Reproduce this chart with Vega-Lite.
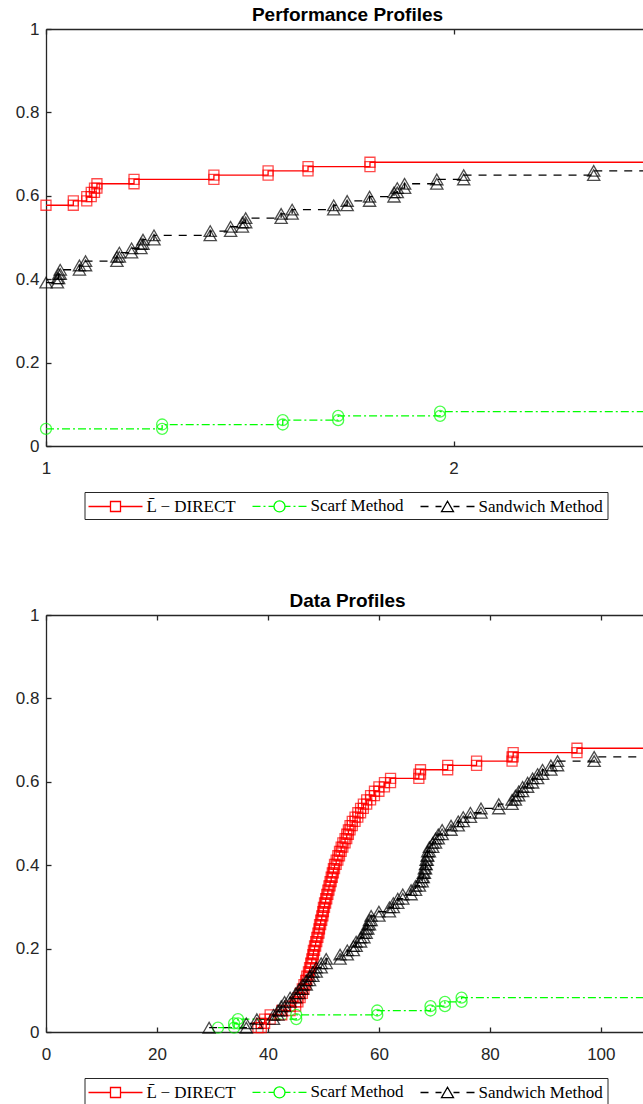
{
  "$schema": "https://vega.github.io/schema/vega-lite/v6.json",
  "padding": {"left": 15, "top": 6, "right": 0, "bottom": 45},
  "spacing": 169,
  "bounds": "flush",
  "resolve": {"scale": {"color": "independent", "shape": "independent"}, "legend": {"color": "independent", "shape": "independent"}},
  "config": {
    "view": {"stroke": null},
    "axis": {"grid": false, "title": null, "domainColor": "#262626", "domainWidth": 1.3, "tickColor": "#262626", "tickWidth": 1.3, "tickSize": -5, "labelColor": "#262626", "labelFont": "Liberation Sans", "labelFontSize": 17, "labelFlush": false, "labelOverlap": false},
    "title": {"font": "Liberation Sans", "fontSize": 19, "fontWeight": "bold", "color": "#000000", "baseline": "alphabetic", "offset": -5, "dx": 3, "frame": "group"}
  },
  "vconcat": [
    {
      "width": 597,
      "height": 417,
      "title": "Performance Profiles",
      "resolve": {"axis": {"x": "independent"}},
      "data": {"values": [
        {"s":"A","x":1,"y":0.5773},
        {"s":"A","x":1.067,"y":0.5773},{"s":"A","x":1.067,"y":0.5876},
        {"s":"A","x":1.1,"y":0.5876},{"s":"A","x":1.1,"y":0.5979},
        {"s":"A","x":1.111,"y":0.5979},{"s":"A","x":1.111,"y":0.6082},
        {"s":"A","x":1.119,"y":0.6082},{"s":"A","x":1.119,"y":0.6186},
        {"s":"A","x":1.125,"y":0.6186},{"s":"A","x":1.125,"y":0.6289},
        {"s":"A","x":1.216,"y":0.6289},{"s":"A","x":1.216,"y":0.6392},
        {"s":"A","x":1.412,"y":0.6392},{"s":"A","x":1.412,"y":0.6495},
        {"s":"A","x":1.545,"y":0.6495},{"s":"A","x":1.545,"y":0.6598},
        {"s":"A","x":1.643,"y":0.6598},{"s":"A","x":1.643,"y":0.6701},
        {"s":"A","x":1.795,"y":0.6701},{"s":"A","x":1.795,"y":0.6804},
        {"s":"A","x":2.6,"y":0.6804},
        {"s":"B","x":1,"y":0.0412},
        {"s":"B","x":1.285,"y":0.0412},{"s":"B","x":1.285,"y":0.0515},
        {"s":"B","x":1.581,"y":0.0515},{"s":"B","x":1.581,"y":0.0619},
        {"s":"B","x":1.717,"y":0.0619},{"s":"B","x":1.717,"y":0.0722},
        {"s":"B","x":1.967,"y":0.0722},{"s":"B","x":1.967,"y":0.0825},
        {"s":"B","x":2.6,"y":0.0825},
        {"s":"C","x":1,"y":0.3918},
        {"s":"C","x":1.028,"y":0.3918},{"s":"C","x":1.028,"y":0.4021},
        {"s":"C","x":1.031,"y":0.4021},{"s":"C","x":1.031,"y":0.4124},
        {"s":"C","x":1.035,"y":0.4124},{"s":"C","x":1.035,"y":0.4227},
        {"s":"C","x":1.082,"y":0.4227},{"s":"C","x":1.082,"y":0.4330},
        {"s":"C","x":1.097,"y":0.4330},{"s":"C","x":1.097,"y":0.4433},
        {"s":"C","x":1.174,"y":0.4433},{"s":"C","x":1.174,"y":0.4536},
        {"s":"C","x":1.180,"y":0.4536},{"s":"C","x":1.180,"y":0.4639},
        {"s":"C","x":1.210,"y":0.4639},{"s":"C","x":1.210,"y":0.4742},
        {"s":"C","x":1.233,"y":0.4742},{"s":"C","x":1.233,"y":0.4845},
        {"s":"C","x":1.238,"y":0.4845},{"s":"C","x":1.238,"y":0.4948},
        {"s":"C","x":1.265,"y":0.4948},{"s":"C","x":1.265,"y":0.5052},
        {"s":"C","x":1.403,"y":0.5052},{"s":"C","x":1.403,"y":0.5155},
        {"s":"C","x":1.453,"y":0.5155},{"s":"C","x":1.453,"y":0.5258},
        {"s":"C","x":1.482,"y":0.5258},{"s":"C","x":1.482,"y":0.5361},
        {"s":"C","x":1.490,"y":0.5361},{"s":"C","x":1.490,"y":0.5464},
        {"s":"C","x":1.577,"y":0.5464},{"s":"C","x":1.577,"y":0.5567},
        {"s":"C","x":1.604,"y":0.5567},{"s":"C","x":1.604,"y":0.5670},
        {"s":"C","x":1.706,"y":0.5670},{"s":"C","x":1.706,"y":0.5773},
        {"s":"C","x":1.739,"y":0.5773},{"s":"C","x":1.739,"y":0.5876},
        {"s":"C","x":1.794,"y":0.5876},{"s":"C","x":1.794,"y":0.5979},
        {"s":"C","x":1.854,"y":0.5979},{"s":"C","x":1.854,"y":0.6082},
        {"s":"C","x":1.862,"y":0.6082},{"s":"C","x":1.862,"y":0.6186},
        {"s":"C","x":1.880,"y":0.6186},{"s":"C","x":1.880,"y":0.6289},
        {"s":"C","x":1.959,"y":0.6289},{"s":"C","x":1.959,"y":0.6392},
        {"s":"C","x":2.025,"y":0.6392},{"s":"C","x":2.025,"y":0.6495},
        {"s":"C","x":2.344,"y":0.6495},{"s":"C","x":2.344,"y":0.6598},
        {"s":"C","x":2.6,"y":0.6598}
      ]},
      "layer": [
        {
          "transform": [{"filter": "datum.s == 'A'"}],
          "mark": {"type": "line", "clip": true, "strokeWidth": 1.3, "color": "#ff0000"},
          "encoding": {
            "x": {"field": "x", "type": "quantitative", "scale": {"domain": [1, 2.465], "nice": false, "zero": false}, "axis": {"orient": "bottom", "values": [1, 2], "format": "d", "labelPadding": 19}},
            "y": {"field": "y", "type": "quantitative", "scale": {"domain": [0, 1], "nice": false}, "axis": {"orient": "left", "values": [0, 0.2, 0.4, 0.6, 0.8, 1], "format": ".1~f", "labelPadding": 12}},
            "order": {"value": null}
          }
        },
        {
          "transform": [{"filter": "datum.s == 'B'"}],
          "mark": {"type": "line", "clip": true, "strokeWidth": 1.3, "color": "#00ff00", "strokeDash": [8, 3, 2, 3]},
          "encoding": {
            "x": {"field": "x", "type": "quantitative", "axis": null},
            "y": {"field": "y", "type": "quantitative"},
            "order": {"value": null}
          }
        },
        {
          "transform": [{"filter": "datum.s == 'C'"}],
          "mark": {"type": "line", "clip": true, "strokeWidth": 1.3, "color": "#000000", "strokeDash": [8, 7]},
          "encoding": {
            "x": {"field": "x", "type": "quantitative", "axis": null},
            "y": {"field": "y", "type": "quantitative"},
            "order": {"value": null}
          }
        },
        {
          "transform": [{"filter": "datum.s == 'A' && datum.x <= 2.465"}],
          "mark": {"type": "point", "shape": "square", "size": 100, "filled": false, "color": "#ff0000", "strokeWidth": 1.3},
          "encoding": {
            "x": {"field": "x", "type": "quantitative", "axis": {"orient": "top", "values": [1, 2], "labels": false}},
            "y": {"field": "y", "type": "quantitative"}
          }
        },
        {
          "transform": [{"filter": "datum.s == 'B' && datum.x <= 2.465"}],
          "mark": {"type": "point", "shape": "circle", "size": 121, "filled": false, "color": "#00ff00", "strokeWidth": 1.3},
          "encoding": {
            "x": {"field": "x", "type": "quantitative", "axis": null},
            "y": {"field": "y", "type": "quantitative"}
          }
        },
        {
          "transform": [{"filter": "datum.s == 'C' && datum.x <= 2.465"}],
          "mark": {"type": "point", "shape": "triangle-up", "size": 150, "filled": false, "color": "#000000", "strokeWidth": 1.3},
          "encoding": {
            "x": {"field": "x", "type": "quantitative", "axis": null},
            "y": {"field": "y", "type": "quantitative"}
          }
        },
        {
          "data": {"values": [{"s": "A"}, {"s": "B"}, {"s": "C"}]},
          "mark": {"type": "point", "opacity": 0, "filled": false, "strokeWidth": 1.3},
          "encoding": {
            "color": {"field": "s", "type": "nominal", "scale": {"domain": ["A", "B", "C"], "range": ["#ff0000", "#00ff00", "#000000"]}},
            "shape": {"field": "s", "type": "nominal",
              "scale": {"domain": ["A", "B", "C"], "range": [
                "M-3,0H-0.556M0.556,0H3M-0.556,-0.556H0.556V0.556H-0.556Z",
                "M-3,0H-2.111M-1.778,0H-1.556M-1.222,0H-0.611M0.611,0H1.222M1.556,0H1.778M2.111,0H3M-0.611,0A0.611,0.611,0,1,1,0.611,0A0.611,0.611,0,1,1,-0.611,0Z",
                "M-3,0H-2.111M-1.333,0H-0.667M0.667,0H1.333M2.111,0H3M0,-0.578L-0.667,0.578L0.667,0.578Z"
              ]},
              "legend": {"orient": "none", "legendX": 38.5, "legendY": 463, "direction": "horizontal", "title": null, "strokeColor": "#262626", "fillColor": "#ffffff", "padding": 4, "labelFont": "Liberation Serif", "labelFontSize": 17, "labelColor": "#000000", "symbolSize": 324, "symbolOffset": 17, "labelOffset": 21, "columnPadding": 13, "symbolStrokeWidth": 1.3,
                "labelExpr": "datum.label == 'A' ? 'L\u0304 \u2212 DIRECT' : datum.label == 'B' ? 'Scarf Method' : 'Sandwich Method'"}
            }
          }
        }
      ]
    },
    {
      "width": 597,
      "height": 417,
      "title": "Data Profiles",
      "resolve": {"axis": {"x": "independent"}},
      "data": {"values": [
        {"s":"A","x":38.2,"y":0.0103},
        {"s":"A","x":38.8,"y":0.0103},{"s":"A","x":38.8,"y":0.0206},
        {"s":"A","x":39.4,"y":0.0206},{"s":"A","x":39.4,"y":0.0309},
        {"s":"A","x":40.4,"y":0.0309},{"s":"A","x":40.4,"y":0.0412},
        {"s":"A","x":42.5,"y":0.0412},{"s":"A","x":42.5,"y":0.0515},
        {"s":"A","x":44.0,"y":0.0515},{"s":"A","x":44.0,"y":0.0619},
        {"s":"A","x":45.0,"y":0.0619},{"s":"A","x":45.0,"y":0.0722},
        {"s":"A","x":45.4,"y":0.0722},{"s":"A","x":45.4,"y":0.0825},
        {"s":"A","x":45.8,"y":0.0825},{"s":"A","x":45.8,"y":0.0928},
        {"s":"A","x":46.2,"y":0.0928},{"s":"A","x":46.2,"y":0.1031},
        {"s":"A","x":46.5,"y":0.1031},{"s":"A","x":46.5,"y":0.1134},
        {"s":"A","x":46.8,"y":0.1134},{"s":"A","x":46.8,"y":0.1237},
        {"s":"A","x":47.0,"y":0.1237},{"s":"A","x":47.0,"y":0.1340},
        {"s":"A","x":47.3,"y":0.1340},{"s":"A","x":47.3,"y":0.1443},
        {"s":"A","x":47.5,"y":0.1443},{"s":"A","x":47.5,"y":0.1546},
        {"s":"A","x":47.7,"y":0.1546},{"s":"A","x":47.7,"y":0.1649},
        {"s":"A","x":47.9,"y":0.1649},{"s":"A","x":47.9,"y":0.1753},
        {"s":"A","x":48.1,"y":0.1753},{"s":"A","x":48.1,"y":0.1856},
        {"s":"A","x":48.2,"y":0.1856},{"s":"A","x":48.2,"y":0.1959},
        {"s":"A","x":48.4,"y":0.1959},{"s":"A","x":48.4,"y":0.2062},
        {"s":"A","x":48.6,"y":0.2062},{"s":"A","x":48.6,"y":0.2165},
        {"s":"A","x":48.8,"y":0.2165},{"s":"A","x":48.8,"y":0.2268},
        {"s":"A","x":49.0,"y":0.2268},{"s":"A","x":49.0,"y":0.2371},
        {"s":"A","x":49.2,"y":0.2371},{"s":"A","x":49.2,"y":0.2474},
        {"s":"A","x":49.3,"y":0.2474},{"s":"A","x":49.3,"y":0.2577},
        {"s":"A","x":49.5,"y":0.2577},{"s":"A","x":49.5,"y":0.2680},
        {"s":"A","x":49.7,"y":0.2680},{"s":"A","x":49.7,"y":0.2784},
        {"s":"A","x":49.9,"y":0.2784},{"s":"A","x":49.9,"y":0.2887},
        {"s":"A","x":50.0,"y":0.2887},{"s":"A","x":50.0,"y":0.2990},
        {"s":"A","x":50.2,"y":0.2990},{"s":"A","x":50.2,"y":0.3093},
        {"s":"A","x":50.4,"y":0.3093},{"s":"A","x":50.4,"y":0.3196},
        {"s":"A","x":50.6,"y":0.3196},{"s":"A","x":50.6,"y":0.3299},
        {"s":"A","x":50.8,"y":0.3299},{"s":"A","x":50.8,"y":0.3402},
        {"s":"A","x":51.0,"y":0.3402},{"s":"A","x":51.0,"y":0.3505},
        {"s":"A","x":51.2,"y":0.3505},{"s":"A","x":51.2,"y":0.3608},
        {"s":"A","x":51.4,"y":0.3608},{"s":"A","x":51.4,"y":0.3711},
        {"s":"A","x":51.6,"y":0.3711},{"s":"A","x":51.6,"y":0.3814},
        {"s":"A","x":51.8,"y":0.3814},{"s":"A","x":51.8,"y":0.3918},
        {"s":"A","x":52.0,"y":0.3918},{"s":"A","x":52.0,"y":0.4021},
        {"s":"A","x":52.3,"y":0.4021},{"s":"A","x":52.3,"y":0.4124},
        {"s":"A","x":52.6,"y":0.4124},{"s":"A","x":52.6,"y":0.4227},
        {"s":"A","x":52.9,"y":0.4227},{"s":"A","x":52.9,"y":0.4330},
        {"s":"A","x":53.2,"y":0.4330},{"s":"A","x":53.2,"y":0.4433},
        {"s":"A","x":53.5,"y":0.4433},{"s":"A","x":53.5,"y":0.4536},
        {"s":"A","x":53.9,"y":0.4536},{"s":"A","x":53.9,"y":0.4639},
        {"s":"A","x":54.2,"y":0.4639},{"s":"A","x":54.2,"y":0.4742},
        {"s":"A","x":54.5,"y":0.4742},{"s":"A","x":54.5,"y":0.4845},
        {"s":"A","x":54.8,"y":0.4845},{"s":"A","x":54.8,"y":0.4948},
        {"s":"A","x":55.2,"y":0.4948},{"s":"A","x":55.2,"y":0.5052},
        {"s":"A","x":55.7,"y":0.5052},{"s":"A","x":55.7,"y":0.5155},
        {"s":"A","x":56.2,"y":0.5155},{"s":"A","x":56.2,"y":0.5258},
        {"s":"A","x":56.7,"y":0.5258},{"s":"A","x":56.7,"y":0.5361},
        {"s":"A","x":57.2,"y":0.5361},{"s":"A","x":57.2,"y":0.5464},
        {"s":"A","x":57.8,"y":0.5464},{"s":"A","x":57.8,"y":0.5567},
        {"s":"A","x":58.5,"y":0.5567},{"s":"A","x":58.5,"y":0.5670},
        {"s":"A","x":59.2,"y":0.5670},{"s":"A","x":59.2,"y":0.5773},
        {"s":"A","x":60.0,"y":0.5773},{"s":"A","x":60.0,"y":0.5876},
        {"s":"A","x":61.0,"y":0.5876},{"s":"A","x":61.0,"y":0.5979},
        {"s":"A","x":62.1,"y":0.5979},{"s":"A","x":62.1,"y":0.6082},
        {"s":"A","x":67.2,"y":0.6082},{"s":"A","x":67.2,"y":0.6186},
        {"s":"A","x":67.5,"y":0.6186},{"s":"A","x":67.5,"y":0.6289},
        {"s":"A","x":72.4,"y":0.6289},{"s":"A","x":72.4,"y":0.6392},
        {"s":"A","x":77.6,"y":0.6392},{"s":"A","x":77.6,"y":0.6495},
        {"s":"A","x":84.0,"y":0.6495},{"s":"A","x":84.0,"y":0.6598},
        {"s":"A","x":84.2,"y":0.6598},{"s":"A","x":84.2,"y":0.6701},
        {"s":"A","x":95.7,"y":0.6701},{"s":"A","x":95.7,"y":0.6804},
        {"s":"A","x":115,"y":0.6804},
        {"s":"B","x":31.0,"y":0.0103},
        {"s":"B","x":33.9,"y":0.0103},{"s":"B","x":33.9,"y":0.0206},
        {"s":"B","x":34.6,"y":0.0206},{"s":"B","x":34.6,"y":0.0309},
        {"s":"B","x":45.1,"y":0.0309},{"s":"B","x":45.1,"y":0.0412},
        {"s":"B","x":59.7,"y":0.0412},{"s":"B","x":59.7,"y":0.0515},
        {"s":"B","x":69.3,"y":0.0515},{"s":"B","x":69.3,"y":0.0619},
        {"s":"B","x":71.9,"y":0.0619},{"s":"B","x":71.9,"y":0.0722},
        {"s":"B","x":74.9,"y":0.0722},{"s":"B","x":74.9,"y":0.0825},
        {"s":"B","x":115,"y":0.0825},
        {"s":"C","x":29.4,"y":0.0103},
        {"s":"C","x":36.1,"y":0.0103},{"s":"C","x":36.1,"y":0.0206},
        {"s":"C","x":38.0,"y":0.0206},{"s":"C","x":38.0,"y":0.0309},
        {"s":"C","x":41.0,"y":0.0309},{"s":"C","x":41.0,"y":0.0412},
        {"s":"C","x":41.8,"y":0.0412},{"s":"C","x":41.8,"y":0.0515},
        {"s":"C","x":42.4,"y":0.0515},{"s":"C","x":42.4,"y":0.0619},
        {"s":"C","x":43.0,"y":0.0619},{"s":"C","x":43.0,"y":0.0722},
        {"s":"C","x":44.0,"y":0.0722},{"s":"C","x":44.0,"y":0.0825},
        {"s":"C","x":45.0,"y":0.0825},{"s":"C","x":45.0,"y":0.0928},
        {"s":"C","x":45.6,"y":0.0928},{"s":"C","x":45.6,"y":0.1031},
        {"s":"C","x":46.2,"y":0.1031},{"s":"C","x":46.2,"y":0.1134},
        {"s":"C","x":46.9,"y":0.1134},{"s":"C","x":46.9,"y":0.1237},
        {"s":"C","x":47.5,"y":0.1237},{"s":"C","x":47.5,"y":0.1340},
        {"s":"C","x":48.1,"y":0.1340},{"s":"C","x":48.1,"y":0.1443},
        {"s":"C","x":48.7,"y":0.1443},{"s":"C","x":48.7,"y":0.1546},
        {"s":"C","x":49.6,"y":0.1546},{"s":"C","x":49.6,"y":0.1649},
        {"s":"C","x":50.5,"y":0.1649},{"s":"C","x":50.5,"y":0.1753},
        {"s":"C","x":53.0,"y":0.1753},{"s":"C","x":53.0,"y":0.1856},
        {"s":"C","x":54.3,"y":0.1856},{"s":"C","x":54.3,"y":0.1959},
        {"s":"C","x":55.4,"y":0.1959},{"s":"C","x":55.4,"y":0.2062},
        {"s":"C","x":55.9,"y":0.2062},{"s":"C","x":55.9,"y":0.2165},
        {"s":"C","x":56.7,"y":0.2165},{"s":"C","x":56.7,"y":0.2268},
        {"s":"C","x":57.3,"y":0.2268},{"s":"C","x":57.3,"y":0.2371},
        {"s":"C","x":57.7,"y":0.2371},{"s":"C","x":57.7,"y":0.2474},
        {"s":"C","x":58.0,"y":0.2474},{"s":"C","x":58.0,"y":0.2577},
        {"s":"C","x":58.3,"y":0.2577},{"s":"C","x":58.3,"y":0.2680},
        {"s":"C","x":58.6,"y":0.2680},{"s":"C","x":58.6,"y":0.2784},
        {"s":"C","x":60.0,"y":0.2784},{"s":"C","x":60.0,"y":0.2887},
        {"s":"C","x":61.9,"y":0.2887},{"s":"C","x":61.9,"y":0.2990},
        {"s":"C","x":62.6,"y":0.2990},{"s":"C","x":62.6,"y":0.3093},
        {"s":"C","x":63.4,"y":0.3093},{"s":"C","x":63.4,"y":0.3196},
        {"s":"C","x":64.3,"y":0.3196},{"s":"C","x":64.3,"y":0.3299},
        {"s":"C","x":65.8,"y":0.3299},{"s":"C","x":65.8,"y":0.3402},
        {"s":"C","x":66.6,"y":0.3402},{"s":"C","x":66.6,"y":0.3505},
        {"s":"C","x":67.3,"y":0.3505},{"s":"C","x":67.3,"y":0.3608},
        {"s":"C","x":67.8,"y":0.3608},{"s":"C","x":67.8,"y":0.3711},
        {"s":"C","x":68.0,"y":0.3711},{"s":"C","x":68.0,"y":0.3814},
        {"s":"C","x":68.2,"y":0.3814},{"s":"C","x":68.2,"y":0.3918},
        {"s":"C","x":68.4,"y":0.3918},{"s":"C","x":68.4,"y":0.4021},
        {"s":"C","x":68.5,"y":0.4021},{"s":"C","x":68.5,"y":0.4124},
        {"s":"C","x":68.7,"y":0.4124},{"s":"C","x":68.7,"y":0.4227},
        {"s":"C","x":68.8,"y":0.4227},{"s":"C","x":68.8,"y":0.4330},
        {"s":"C","x":69.1,"y":0.4330},{"s":"C","x":69.1,"y":0.4433},
        {"s":"C","x":69.7,"y":0.4433},{"s":"C","x":69.7,"y":0.4536},
        {"s":"C","x":70.2,"y":0.4536},{"s":"C","x":70.2,"y":0.4639},
        {"s":"C","x":70.7,"y":0.4639},{"s":"C","x":70.7,"y":0.4742},
        {"s":"C","x":71.4,"y":0.4742},{"s":"C","x":71.4,"y":0.4845},
        {"s":"C","x":73.0,"y":0.4845},{"s":"C","x":73.0,"y":0.4948},
        {"s":"C","x":74.3,"y":0.4948},{"s":"C","x":74.3,"y":0.5052},
        {"s":"C","x":75.2,"y":0.5052},{"s":"C","x":75.2,"y":0.5155},
        {"s":"C","x":76.5,"y":0.5155},{"s":"C","x":76.5,"y":0.5258},
        {"s":"C","x":78.4,"y":0.5258},{"s":"C","x":78.4,"y":0.5361},
        {"s":"C","x":81.6,"y":0.5361},{"s":"C","x":81.6,"y":0.5464},
        {"s":"C","x":84.0,"y":0.5464},{"s":"C","x":84.0,"y":0.5567},
        {"s":"C","x":84.6,"y":0.5567},{"s":"C","x":84.6,"y":0.5670},
        {"s":"C","x":85.2,"y":0.5670},{"s":"C","x":85.2,"y":0.5773},
        {"s":"C","x":85.9,"y":0.5773},{"s":"C","x":85.9,"y":0.5876},
        {"s":"C","x":86.8,"y":0.5876},{"s":"C","x":86.8,"y":0.5979},
        {"s":"C","x":87.7,"y":0.5979},{"s":"C","x":87.7,"y":0.6082},
        {"s":"C","x":88.6,"y":0.6082},{"s":"C","x":88.6,"y":0.6186},
        {"s":"C","x":89.5,"y":0.6186},{"s":"C","x":89.5,"y":0.6289},
        {"s":"C","x":91.0,"y":0.6289},{"s":"C","x":91.0,"y":0.6392},
        {"s":"C","x":92.2,"y":0.6392},{"s":"C","x":92.2,"y":0.6495},
        {"s":"C","x":98.8,"y":0.6495},{"s":"C","x":98.8,"y":0.6598},
        {"s":"C","x":115,"y":0.6598}
      ]},
      "layer": [
        {
          "transform": [{"filter": "datum.s == 'A'"}],
          "mark": {"type": "line", "clip": true, "strokeWidth": 1.3, "color": "#ff0000"},
          "encoding": {
            "x": {"field": "x", "type": "quantitative", "scale": {"domain": [0, 107.6], "nice": false, "zero": false}, "axis": {"orient": "bottom", "values": [0, 20, 40, 60, 80, 100], "format": "d", "labelPadding": 19}},
            "y": {"field": "y", "type": "quantitative", "scale": {"domain": [0, 1], "nice": false}, "axis": {"orient": "left", "values": [0, 0.2, 0.4, 0.6, 0.8, 1], "format": ".1~f", "labelPadding": 12}},
            "order": {"value": null}
          }
        },
        {
          "transform": [{"filter": "datum.s == 'B'"}],
          "mark": {"type": "line", "clip": true, "strokeWidth": 1.3, "color": "#00ff00", "strokeDash": [8, 3, 2, 3]},
          "encoding": {
            "x": {"field": "x", "type": "quantitative", "axis": null},
            "y": {"field": "y", "type": "quantitative"},
            "order": {"value": null}
          }
        },
        {
          "transform": [{"filter": "datum.s == 'C'"}],
          "mark": {"type": "line", "clip": true, "strokeWidth": 1.3, "color": "#000000", "strokeDash": [8, 7]},
          "encoding": {
            "x": {"field": "x", "type": "quantitative", "axis": null},
            "y": {"field": "y", "type": "quantitative"},
            "order": {"value": null}
          }
        },
        {
          "transform": [{"filter": "datum.s == 'A' && datum.x <= 107.6"}],
          "mark": {"type": "point", "shape": "square", "size": 100, "filled": false, "color": "#ff0000", "strokeWidth": 1.3},
          "encoding": {
            "x": {"field": "x", "type": "quantitative", "axis": {"orient": "top", "values": [0, 20, 40, 60, 80, 100], "labels": false}},
            "y": {"field": "y", "type": "quantitative"}
          }
        },
        {
          "transform": [{"filter": "datum.s == 'B' && datum.x <= 107.6"}],
          "mark": {"type": "point", "shape": "circle", "size": 121, "filled": false, "color": "#00ff00", "strokeWidth": 1.3},
          "encoding": {
            "x": {"field": "x", "type": "quantitative", "axis": null},
            "y": {"field": "y", "type": "quantitative"}
          }
        },
        {
          "transform": [{"filter": "datum.s == 'C' && datum.x <= 107.6"}],
          "mark": {"type": "point", "shape": "triangle-up", "size": 150, "filled": false, "color": "#000000", "strokeWidth": 1.3},
          "encoding": {
            "x": {"field": "x", "type": "quantitative", "axis": null},
            "y": {"field": "y", "type": "quantitative"}
          }
        },
        {
          "data": {"values": [{"s": "A"}, {"s": "B"}, {"s": "C"}]},
          "mark": {"type": "point", "opacity": 0, "filled": false, "strokeWidth": 1.3},
          "encoding": {
            "color": {"field": "s", "type": "nominal", "scale": {"domain": ["A", "B", "C"], "range": ["#ff0000", "#00ff00", "#000000"]}},
            "shape": {"field": "s", "type": "nominal",
              "scale": {"domain": ["A", "B", "C"], "range": [
                "M-3,0H-0.556M0.556,0H3M-0.556,-0.556H0.556V0.556H-0.556Z",
                "M-3,0H-2.111M-1.778,0H-1.556M-1.222,0H-0.611M0.611,0H1.222M1.556,0H1.778M2.111,0H3M-0.611,0A0.611,0.611,0,1,1,0.611,0A0.611,0.611,0,1,1,-0.611,0Z",
                "M-3,0H-2.111M-1.333,0H-0.667M0.667,0H1.333M2.111,0H3M0,-0.578L-0.667,0.578L0.667,0.578Z"
              ]},
              "legend": {"orient": "none", "legendX": 38.5, "legendY": 463, "direction": "horizontal", "title": null, "strokeColor": "#262626", "fillColor": "#ffffff", "padding": 4, "labelFont": "Liberation Serif", "labelFontSize": 17, "labelColor": "#000000", "symbolSize": 324, "symbolOffset": 17, "labelOffset": 21, "columnPadding": 13, "symbolStrokeWidth": 1.3,
                "labelExpr": "datum.label == 'A' ? 'L\u0304 \u2212 DIRECT' : datum.label == 'B' ? 'Scarf Method' : 'Sandwich Method'"}
            }
          }
        }
      ]
    }
  ]
}
